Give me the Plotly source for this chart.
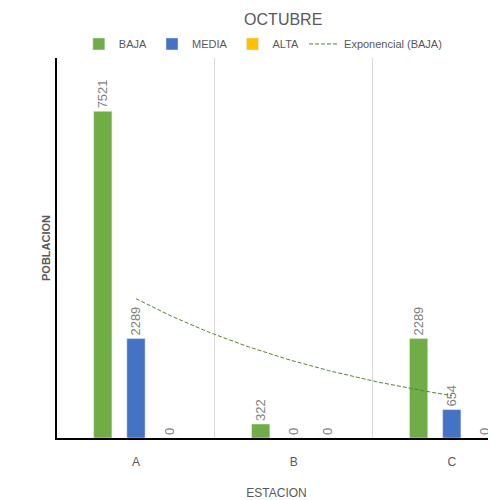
import numpy as np
import plotly.graph_objects as go

categories = ["A", "B", "C"]
baja = [7521, 322, 2289]
media = [2289, 0, 654]
alta = [0, 0, 0]

xpos = np.arange(len(categories))

# exponential trendline for BAJA (fit on x = 1..n as Excel does)
xn = xpos + 1
b, a = np.polyfit(xn, np.log(baja), 1)
xt = np.linspace(xpos[0], xpos[-1], 60)
yt = np.exp(a + b * (xt + 1))

fig = go.Figure()
common = dict(textposition="outside", textangle=-90, cliponaxis=False, constraintext="none",
              textfont=dict(family="Liberation Sans, Arial", size=13, color="#7f7f7f"))
fig.add_trace(go.Bar(x=xpos, y=baja, name="BAJA", marker_color="#70ad47",
                     text=[str(v) for v in baja], **common))
fig.add_trace(go.Bar(x=xpos, y=media, name="MEDIA", marker_color="#4472c4",
                     text=[str(v) for v in media], **common))
fig.add_trace(go.Bar(x=xpos, y=alta, name="ALTA", marker_color="#ffc000",
                     text=[str(v) for v in alta], **common))
fig.add_trace(go.Scatter(x=xt, y=yt, mode="lines", name="Exponencial (BAJA)",
                         line=dict(color="#548235", width=1, dash="4px,2px")))

fig.update_layout(
    width=488, height=492,
    margin=dict(l=49, r=0, t=50, b=62, autoexpand=False),
    paper_bgcolor="white", plot_bgcolor="white",
    barmode="group", bargap=0.37, bargroupgap=0.45,
    title=dict(text="OCTUBRE", x=0.564, xanchor="center", y=0.976, yanchor="middle",
               font=dict(family="Liberation Sans, Arial", size=16, color="#595959")),
    legend=dict(orientation="h", x=0.47, xanchor="center", y=1.037, yanchor="middle",
                font=dict(family="Liberation Sans, Arial", size=11, color="#595959"),
                bgcolor="rgba(0,0,0,0)", tracegroupgap=0, itemwidth=30),
    showlegend=True,
    font=dict(family="Liberation Sans, Arial", color="#595959"),
)
fig.update_xaxes(
    automargin=False,
    range=[-0.5, 2.28], tickmode="array", tickvals=list(xpos), ticktext=categories,
    showgrid=False, showline=True, linecolor="black", linewidth=1.5, ticks="",
    ticklabelstandoff=12,
    tickfont=dict(size=12, color="#595959"),
    minor=dict(tickvals=[0.5, 1.5], showgrid=True, gridcolor="#d9d9d9", gridwidth=1, ticks=""),
    title=dict(text="ESTACION", font=dict(size=12, color="#595959"), standoff=24),
    zeroline=False,
)
fig.update_yaxes(
    automargin=False,
    range=[0, 8750], showticklabels=False, showgrid=False, zeroline=False,
    showline=True, linecolor="black", linewidth=1.5, ticks="",
    title=dict(text="<b>POBLACION</b>", font=dict(size=11, color="#595959"), standoff=2),
)
fig.write_html("out.html")
